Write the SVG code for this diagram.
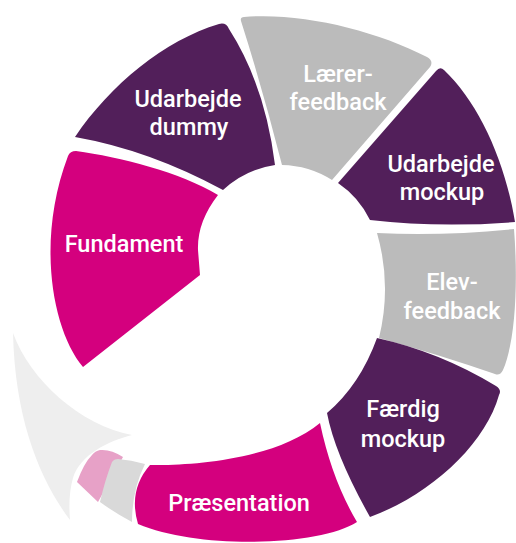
<svg xmlns="http://www.w3.org/2000/svg" width="516" height="543" viewBox="0 0 516 543">
  <style>
    .purple { fill: #521f5a; }
    .magenta { fill: #d4007e; }
    .grey { fill: #bbbbbb; }
    .light { fill: #d9d9d9; }
    .rose { fill: #e7a1c7; }
    .tail { fill: #eeeeee; }
    .label { font-family: Roboto, "Liberation Sans", sans-serif; font-size: 23.5px; font-weight: 500; fill: #ffffff; text-anchor: middle; }
  </style>
  <rect width="516" height="543" fill="#ffffff"/>

  <!-- fading tail of the spiral -->
  <g id="tail">
    <path class="tail" d="M13,333 C30,380 80,425 132,435 C108,441 80,455 73,478 Q68,495 70,520 C40,480 15,420 13,333 Z"/>
  </g>
  <g id="step-rose">
    <path class="rose" d="M100,450 Q111,449 123,457 L98,502 L77,482 Q84,463 92,455 Q95,451 100,450 Z"/>
  </g>
  <g id="step-light">
    <path class="light" d="M118,459 Q131,460 145,464 Q132,490 132,522 Q115,513 100,502 Q105,480 112,462 Q114,459 118,459 Z"/>
  </g>

  <g id="fundament">
    <path class="magenta" d="M68,156 Q70,151 76,151 C120,157 180,172 218,195 Q197,222 198,250 L200,275 L83,367 C52,330 36,240 68,156 Z"/>
    <text class="label" x="124" y="252">Fundament</text>
  </g>

  <g id="udarbejde-dummy">
    <path class="purple" d="M75,137 C110,85 165,40 219,24 Q226,22 229,29 Q265,85 275,165 A97,97 0 0 0 223,190 Q149,150 75,137 Z"/>
    <text class="label" x="188" y="107">Udarbejde</text>
    <text class="label" x="189" y="135">dummy</text>
  </g>

  <g id="laerer-feedback">
    <path class="grey" d="M244,17 C300,12 375,30 427,57 Q434,61 430,67 L332,180 A97,97 0 0 0 282,165 Q263,90 241,21 Q240,17 244,17 Z"/>
    <text class="label" x="338" y="82">Lærer-</text>
    <text class="label" x="338" y="110">feedback</text>
  </g>

  <g id="udarbejde-mockup">
    <path class="purple" d="M444,70 C478,102 505,160 515,222 Q440,228 370,220 A95,95 0 0 0 338,183 L436,71 Q440,66 444,70 Z"/>
    <text class="label" x="441" y="172">Udarbejde</text>
    <text class="label" x="442" y="200">mockup</text>
  </g>

  <g id="elev-feedback">
    <path class="grey" d="M377,233 Q445,236 514,229 C518,280 516,340 503,370 Q500,376 495,374 Q440,355 379,338 Q392,285 377,233 Z"/>
    <text class="label" x="452" y="290">Elev-</text>
    <text class="label" x="452" y="319">feedback</text>
  </g>

  <g id="faerdig-mockup">
    <path class="purple" d="M377,338 Q440,352 496,386 Q502,390 499,395 C485,445 430,495 370,517 Q335,455 327,413 Q360,385 377,338 Z"/>
    <text class="label" x="403" y="417">Færdig</text>
    <text class="label" x="403" y="447">mockup</text>
  </g>

  <g id="praesentation">
    <path class="magenta" d="M320,423 Q332,480 357,522 C320,546 200,550 138,524 Q128,490 150,465 C190,466 275,460 320,423 Z"/>
    <text class="label" x="239" y="511">Præsentation</text>
  </g>

  <g id="connectors"></g>
</svg>
